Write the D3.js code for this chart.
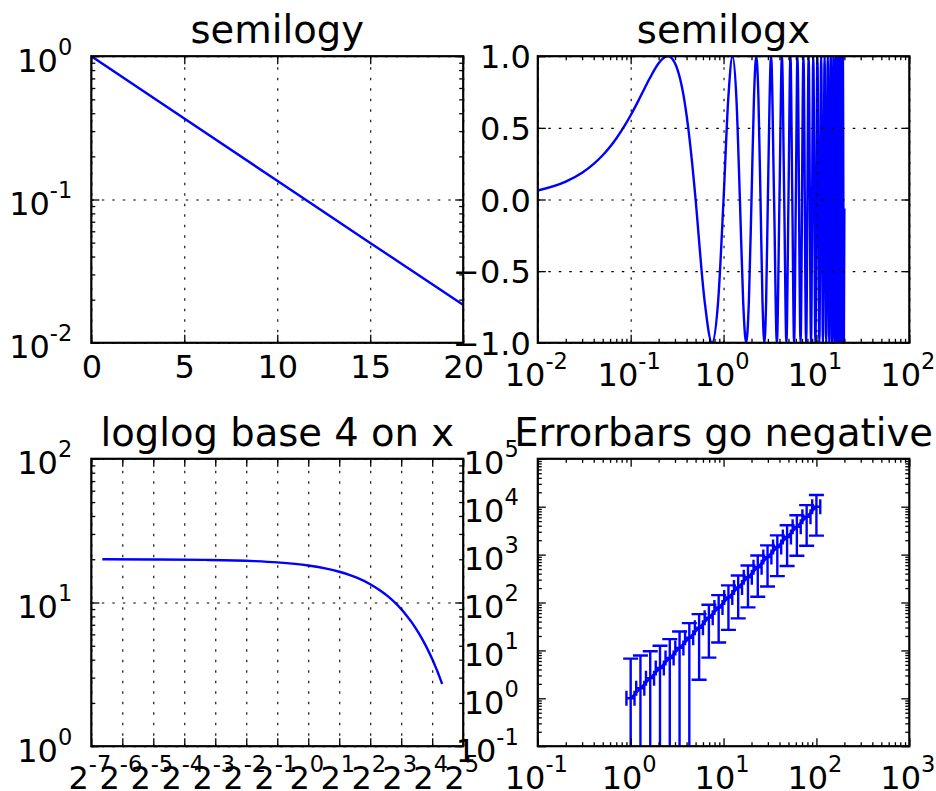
<!DOCTYPE html>
<html><head><meta charset="utf-8">
<script src="https://cdn.jsdelivr.net/npm/d3@7"></script>
<style>
body{margin:0;background:#fff;}
svg{display:block;font-family:"DejaVu Sans",sans-serif;}
</style></head><body>
<svg id="c" width="936" height="791"></svg>
<script>
// ---------------- data ----------------
const titles = ["semilogy", "semilogx", "loglog base 4 on x", "Errorbars go negative"];

const semilogyT = [0.01, 5, 10, 15, 19.99];
const semilogyV = [0.998, 0.368, 0.135, 0.0498, 0.0184];

const semilogxT = [0.01,0.02,0.03,0.04,0.05,0.06,0.07,0.08,0.09,0.10,
  0.12,0.14,0.16,0.18,0.20,0.22,0.24,0.25,0.26,0.28,0.30,0.32,0.34,0.36,0.38,0.40,0.42,0.44,0.46,0.48,0.50,
  0.625,0.75,0.875,1.0,1.125,1.25,1.375,1.5,1.625,1.75,1.875,2.0,2.125,2.25,2.375,2.5,2.625,2.75,2.875,3.0,
  3.25,3.5,3.75,4.0,4.25,4.5,4.75,5.0,5.25,5.5,5.75,6.0,
  6.25,6.75,7.25,7.75,8.25,8.75,9.25,9.75,10.25,10.75,11.25,11.75,12.25,12.75,13.25,13.75,
  14.25,14.75,15.25,15.75,16.25,16.75,17.25,17.75,18.25,18.75,19.25,19.75,19.99];
const semilogxV = [0.063,0.125,0.187,0.249,0.309,0.368,0.426,0.482,0.536,0.588,
  0.685,0.771,0.844,0.905,0.951,0.982,0.998,1.0,0.998,0.982,0.951,0.905,0.844,0.771,0.685,0.588,0.482,0.368,0.249,0.125,0.0,
  -0.707,-1,-0.707,0,0.707,1,0.707,0,-0.707,-1,-0.707,0,0.707,1,0.707,0,-0.707,-1,-0.707,0,
  1,0,-1,0,1,0,-1,0,1,0,-1,0,
  1,-1,1,-1,1,-1,1,-1,1,-1,1,-1,1,-1,1,-1,
  1,-1,1,-1,1,-1,1,-1,1,-1,1,-1,-0.063];

const loglogT = [0.01,0.03,0.1,0.3,0.5,1,1.5,2,2.5,3,4,5,6,7,8,9,10,11,12,13,14,15,16,17,18,19,19.99];
const loglogV = [19.98,19.94,19.80,19.41,19.02,18.10,17.21,16.37,15.58,14.82,13.41,12.13,10.98,9.93,8.99,8.13,7.36,6.66,6.02,5.45,4.93,4.46,4.04,3.65,3.31,2.99,2.71];

const errX = [1,1.274,1.624,2.069,2.637,3.360,4.281,5.456,6.952,8.859,11.29,14.38,18.33,23.36,29.76,37.93,48.33,61.58,78.48,100];
const errY = [1,1.624,2.637,4.281,6.952,11.29,18.33,29.76,48.33,78.48,127.4,206.9,336.0,545.6,885.9,1438,2336,3793,6158,10000];
const errYLow = [-4.75,-4.59,-4.34,-3.93,-3.26,-2.18,-0.42,2.44,7.08,14.62,26.86,46.73,79.0,131.4,216.5,354.6,578.9,943.2,1534.6,2495];
const errYHigh = [6.75,7.84,9.61,12.49,17.17,24.75,37.08,57.09,89.58,142.3,228.0,367.1,593.0,959.7,1555,2522,4092,6642,10782,17505];
const errXLow = [0.9,1.147,1.461,1.862,2.373,3.024,3.853,4.910,6.257,7.973,10.16,12.95,16.50,21.02,26.79,34.13,43.50,55.43,70.63,90];
const errXHigh = [1.1,1.402,1.786,2.276,2.900,3.696,4.709,6.001,7.647,9.745,12.42,15.82,20.16,25.69,32.74,41.72,53.16,67.74,86.32,110];

const ticks1X = [0, 5, 10, 15, 20];
const ticks1YExp = [-2, -1, 0];
const ticks2XExp = [-2, -1, 0, 1, 2];
const ticks2Y = [-1, -0.5, 0, 0.5, 1];
const ticks3XExp = [-7,-6,-5,-4,-3,-2,-1,0,1,2,3,4,5];
const ticks3YExp = [0, 1, 2];
const ticks4XExp = [-1, 0, 1, 2, 3];
const ticks4YExp = [-1, 0, 1, 2, 3, 4, 5];

// ---------------- drawing ----------------
const BLUE = "#0000ff";
const LABEL_FS = 32, EXP_FS = 22.5, EXP_RAISE = 17, TITLE_FS = 38.5, LW = 2.4;
const svg = d3.select("#c");

function logMinor(lo, hi) {
  const out = [];
  for (let e = lo; e < hi; e++) for (let m = 2; m <= 9; m++) out.push(m * Math.pow(10, e));
  return out;
}
const pow10 = e => Math.pow(10, e);
const pow2 = e => Math.pow(2, e);
const fmtPow = (base, logf) => d => ({ base: base, exp: String(Math.round(logf(d))) });
const fmtPlain = f => d => ({ plain: f(d).replace("-", "\u2212") });

const C1 = [91.3, 463.2], C2 = [537.8, 909.3];
const R1 = [56.2, 342.8], R2 = [458.8, 746.2];

const panels = [
  { x0: C1[0], x1: C1[1], y0: R1[0], y1: R1[1],
    x: d3.scaleLinear().domain([0, 20]), y: d3.scaleLog().domain([0.01, 1]),
    xMajor: ticks1X, xMinor: [], yMajor: ticks1YExp.map(pow10), yMinor: logMinor(-2, 0),
    xFmt: fmtPlain(d3.format("d")), yFmt: fmtPow("10", Math.log10), grid: true },
  { x0: C2[0], x1: C2[1], y0: R1[0], y1: R1[1],
    x: d3.scaleLog().domain([0.01, 100]), y: d3.scaleLinear().domain([-1, 1]),
    xMajor: ticks2XExp.map(pow10), xMinor: logMinor(-2, 2), yMajor: ticks2Y, yMinor: [],
    xFmt: fmtPow("10", Math.log10), yFmt: fmtPlain(d3.format(".1f")), grid: true },
  { x0: C1[0], x1: C1[1], y0: R2[0], y1: R2[1],
    x: d3.scaleLog().base(2).domain([pow2(-7), pow2(5)]), y: d3.scaleLog().domain([1, 100]),
    xMajor: ticks3XExp.map(pow2), xMinor: [], yMajor: ticks3YExp.map(pow10), yMinor: logMinor(0, 2),
    xFmt: fmtPow("2", Math.log2), yFmt: fmtPow("10", Math.log10), grid: true },
  { x0: C2[0], x1: C2[1], y0: R2[0], y1: R2[1],
    x: d3.scaleLog().domain([0.1, 1000]), y: d3.scaleLog().domain([0.1, 1e5]),
    xMajor: ticks4XExp.map(pow10), xMinor: logMinor(-1, 3), yMajor: ticks4YExp.map(pow10), yMinor: logMinor(-1, 5),
    xFmt: fmtPow("10", Math.log10), yFmt: fmtPow("10", Math.log10), grid: false }
];

panels.forEach((p, i) => {
  p.x.range([p.x0, p.x1]);
  p.y.range([p.y1, p.y0]);
  p.id = i;
});

const defs = svg.append("defs");
panels.forEach(p => {
  defs.append("clipPath").attr("id", "clip" + p.id)
    .append("rect").attr("x", p.x0).attr("y", p.y0).attr("width", p.x1 - p.x0).attr("height", p.y1 - p.y0);
});

function gridLayer(p) {
  if (!p.grid) return;
  const W = p.x1 - p.x0, H = p.y1 - p.y0;
  const gx = svg.append("g").attr("transform", `translate(0,${p.y1})`)
    .call(d3.axisBottom(p.x).tickValues(p.xMajor).tickSizeInner(-H).tickSizeOuter(0).tickFormat(""));
  const gy = svg.append("g").attr("transform", `translate(${p.x0},0)`)
    .call(d3.axisLeft(p.y).tickValues(p.yMajor).tickSizeInner(-W).tickSizeOuter(0).tickFormat(""));
  [gx, gy].forEach(g => {
    g.select(".domain").remove();
    g.selectAll(".tick line").attr("stroke", "#000").attr("stroke-width", 1.1)
      .attr("stroke-dasharray", "2.5,8");
  });
}

function tickLayer(p, xVals, yVals, size) {
  const H = [[d3.axisBottom, p.x, `translate(0,${p.y1})`, xVals],
             [d3.axisTop, p.x, `translate(0,${p.y0})`, xVals],
             [d3.axisLeft, p.y, `translate(${p.x0},0)`, yVals],
             [d3.axisRight, p.y, `translate(${p.x1},0)`, yVals]];
  H.forEach(([fn, sc, tr, vals]) => {
    if (!vals.length) return;
    const g = svg.append("g").attr("transform", tr)
      .call(fn(sc).tickValues(vals).tickSizeInner(-size).tickSizeOuter(0).tickFormat(""));
    g.select(".domain").remove();
    g.selectAll(".tick line").attr("stroke", "#000").attr("stroke-width", 1.3);
  });
}

function labelLayer(p) {
  // bottom
  const gb = svg.append("g").attr("transform", `translate(0,${p.y1})`)
    .call(d3.axisBottom(p.x).tickValues(p.xMajor).tickSize(0).tickPadding(0).tickFormat(() => ""));
  gb.select(".domain").remove();
  gb.attr("font-size", LABEL_FS).attr("font-family", "DejaVu Sans");
  gb.selectAll(".tick text").each(function (d) {
    const t = d3.select(this).attr("dy", null).attr("fill", "#000");
    const f = p.xFmt(d);
    if (f.exp !== undefined) {
      t.append("tspan").text(f.base);
      t.append("tspan").attr("font-size", EXP_FS).attr("dy", -EXP_RAISE).text(f.exp);
      t.attr("y", 43).attr("x", -2);
    } else {
      t.text(f.plain).attr("y", 35);
    }
  });
  // left
  const gl = svg.append("g").attr("transform", `translate(${p.x0},0)`)
    .call(d3.axisLeft(p.y).tickValues(p.yMajor).tickSize(0).tickPadding(0).tickFormat(() => ""));
  gl.select(".domain").remove();
  gl.attr("font-size", LABEL_FS).attr("font-family", "DejaVu Sans");
  gl.selectAll(".tick text").each(function (d) {
    const t = d3.select(this).attr("dy", null).attr("fill", "#000");
    const f = p.yFmt(d);
    if (f.exp !== undefined) {
      t.append("tspan").text(f.base);
      t.append("tspan").attr("font-size", EXP_FS).attr("dy", -EXP_RAISE).text(f.exp);
      t.attr("x", -19).attr("y", 15);
    } else {
      t.text(f.plain).attr("x", -7).attr("y", 11.5);
    }
  });
  // title
  svg.append("text").attr("x", (p.x0 + p.x1) / 2).attr("y", p.y0 - 13)
    .attr("text-anchor", "middle").attr("font-size", TITLE_FS).attr("fill", "#000")
    .text(titles[p.id]);
}

// data layers
function dataLayer(p) {
  const g = svg.append("g").attr("clip-path", `url(#clip${p.id})`);
  if (p.id === 0) {
    g.append("path").datum(semilogyT.map((t, i) => [t, semilogyV[i]]))
      .attr("fill", "none").attr("stroke", BLUE).attr("stroke-width", LW)
      .attr("d", d3.line().x(d => p.x(d[0])).y(d => p.y(d[1])));
  } else if (p.id === 1) {
    g.append("path").datum(semilogxT.map((t, i) => [t, semilogxV[i]]))
      .attr("fill", "none").attr("stroke", BLUE).attr("stroke-width", LW)
      .attr("stroke-linejoin", "round")
      .attr("d", d3.line().curve(d3.curveMonotoneX).x(d => p.x(d[0])).y(d => p.y(d[1])));
  } else if (p.id === 2) {
    g.append("path").datum(loglogT.map((t, i) => [t, loglogV[i]]))
      .attr("fill", "none").attr("stroke", BLUE).attr("stroke-width", LW)
      .attr("d", d3.line().curve(d3.curveMonotoneX).x(d => p.x(d[0])).y(d => p.y(d[1])));
  } else {
    const cap = 7.5;
    const bottom = p.y1 + 20;
    const yy = v => v > 0 ? p.y(v) : bottom;
    errX.forEach((xv, i) => {
      const px = p.x(xv), py = p.y(errY[i]);
      const yh = yy(errYHigh[i]), yl = yy(errYLow[i]);
      const xl = p.x(errXLow[i]), xh = p.x(errXHigh[i]);
      const segs = [
        [px, yh, px, yl],
        [px - cap, yh, px + cap, yh],
        [xl, py, xh, py],
        [xl, py - cap, xl, py + cap],
        [xh, py - cap, xh, py + cap]
      ];
      if (errYLow[i] > 0) segs.push([px - cap, yl, px + cap, yl]);
      g.selectAll(null).data(segs).join("line")
        .attr("x1", d => d[0]).attr("y1", d => d[1]).attr("x2", d => d[2]).attr("y2", d => d[3])
        .attr("stroke", BLUE).attr("stroke-width", LW);
    });
    g.append("path").datum(errX.map((x, i) => [x, errY[i]]))
      .attr("fill", "none").attr("stroke", BLUE).attr("stroke-width", LW)
      .attr("d", d3.line().x(d => p.x(d[0])).y(d => p.y(d[1])));
  }
}

panels.forEach(p => {
  dataLayer(p);
  gridLayer(p);
  tickLayer(p, p.xMajor, p.yMajor, 8);
  tickLayer(p, p.xMinor, p.yMinor, 4);
  svg.append("rect").attr("x", p.x0).attr("y", p.y0)
    .attr("width", p.x1 - p.x0).attr("height", p.y1 - p.y0)
    .attr("fill", "none").attr("stroke", "#000").attr("stroke-width", 2.2);
  labelLayer(p);
});
</script>
</body></html>
